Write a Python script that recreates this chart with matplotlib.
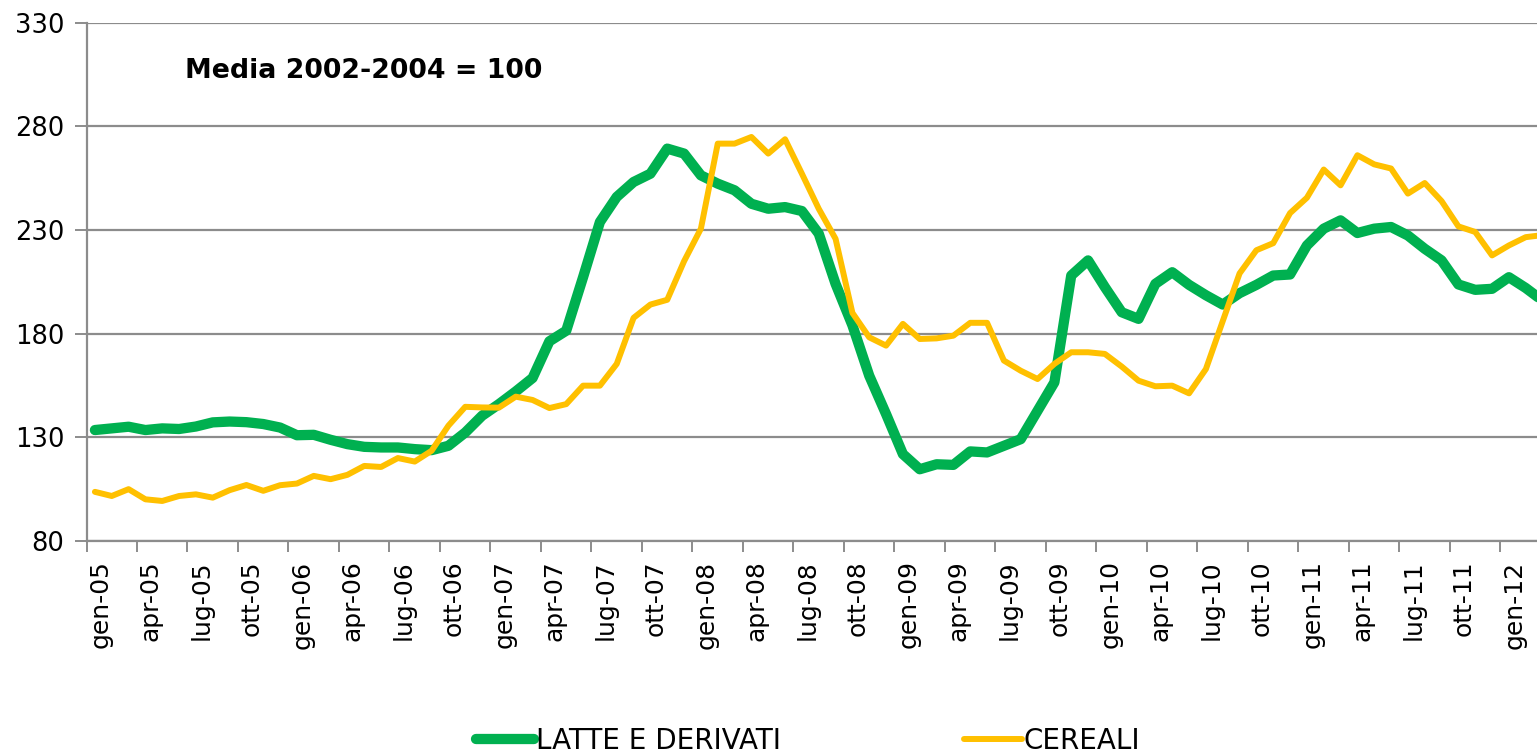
import matplotlib
matplotlib.use("Agg")
import matplotlib.pyplot as plt
from matplotlib.lines import Line2D

# ---- data (monthly, gen-05 .. mar-12) ----
latte = [133.5, 134.3, 135.1, 133.5, 134.3, 134.0, 135.2, 137.2, 137.6, 137.3,
         136.4, 134.7, 131.0, 131.2, 128.8, 126.7, 125.4, 125.1, 125.1, 124.3,
         123.8, 125.9, 132.3, 140.4, 146.0, 152.1, 158.6, 176.3, 181.4, 207.2,
         233.8, 245.9, 253.1, 257.1, 269.2, 266.8, 256.3, 252.3, 249.1, 242.6,
         240.2, 241.0, 239.1, 228.2, 204.0, 184.0, 159.7, 141.2, 121.9, 114.6,
         117.0, 116.7, 123.2, 122.7, 125.9, 129.1, 142.8, 156.5, 208.0, 215.3,
         202.4, 190.3, 187.1, 204.0, 209.6, 203.5, 198.5, 194.0, 199.5, 203.5,
         208.0, 208.5, 222.5, 230.6, 234.6, 228.5, 230.6, 231.4, 227.3, 220.9,
         215.3, 203.7, 201.1, 201.6, 207.2, 202.0, 195.9]
cereali = [103.7, 101.7, 105.0, 100.1, 99.3, 101.7, 102.5, 100.9, 104.5, 107.0,
           104.2, 106.9, 107.7, 111.4, 109.8, 111.9, 116.2, 115.7, 120.0, 118.3,
           123.5, 135.6, 144.7, 144.4, 144.3, 149.6, 148.0, 144.1, 146.0, 154.9,
           154.9, 165.4, 187.6, 194.0, 196.3, 214.9, 230.6, 271.6, 271.6, 274.8,
           266.8, 273.7, 257.1, 240.2, 225.7, 190.0, 178.2, 174.2, 184.7, 177.4,
           177.7, 179.0, 185.2, 185.2, 167.0, 162.1, 158.1, 165.4, 171.0, 171.0,
           170.2, 164.1, 157.3, 154.6, 154.9, 151.2, 162.9, 186.0, 209.0, 220.2,
           223.6, 238.1, 245.5, 259.1, 251.5, 266.0, 261.6, 259.6, 247.5, 252.6,
           243.9, 231.7, 229.0, 217.7, 222.5, 226.5, 227.5]
tick_labels = ["gen-05", "apr-05", "lug-05", "ott-05", "gen-06", "apr-06", "lug-06",
               "ott-06", "gen-07", "apr-07", "lug-07", "ott-07", "gen-08", "apr-08",
               "lug-08", "ott-08", "gen-09", "apr-09", "lug-09", "ott-09", "gen-10",
               "apr-10", "lug-10", "ott-10", "gen-11", "apr-11", "lug-11", "ott-11",
               "gen-12"]
series_names = ["LATTE E DERIVATI", "CEREALI"]
y_ticks = [80, 130, 180, 230, 280, 330]

GREEN = "#00B050"
YELLOW = "#FFC000"
GRID = "#8C8C8C"

W, H = 1537, 755
plt.rcParams['font.family'] = ['DejaVu Sans']
fig = plt.figure(figsize=(W / 100, H / 100), dpi=100)

left_px, right_px, top_px, bot_px = 86.5, 1537, 22.5, 541
ax = fig.add_axes([left_px / W, 1 - bot_px / H, (right_px - left_px) / W, (bot_px - top_px) / H])

x = list(range(len(latte)))
ax.plot(x, latte, color=GREEN, lw=7.4, solid_joinstyle='round', solid_capstyle='round', zorder=3)
ax.plot(x, cereali, color=YELLOW, lw=4.3, solid_joinstyle='round', solid_capstyle='round', zorder=4)

month_px = 16.833
ax.set_xlim(-0.5, (right_px - left_px) / month_px - 0.5)
ax.set_ylim(80, 330)

# y axis
ax.set_yticks(y_ticks)
ax.set_yticklabels([str(v) for v in y_ticks], fontsize=18.5)
ax.yaxis.grid(True, color=GRID, lw=1.6)
ax.set_axisbelow(True)

# x axis: tick marks at category boundaries, labels under categories
boundaries = [3 * k - 0.5 for k in range(len(tick_labels))]
ax.set_xticks(boundaries)
ax.set_xticklabels([])
ax.set_xticks([3 * k + 0.33 for k in range(len(tick_labels))], minor=True)
ax.set_xticklabels(tick_labels, minor=True, rotation=90, fontsize=18, va='top')
ax.tick_params(axis='x', which='major', length=8, width=1.4, color=GRID)
ax.tick_params(axis='x', which='minor', length=0, pad=14)
ax.tick_params(axis='y', length=9, width=1.4, color=GRID, pad=7)

for s in ['top', 'right']:
    ax.spines[s].set_visible(False)
for s in ['left', 'bottom']:
    ax.spines[s].set_color(GRID)
    ax.spines[s].set_linewidth(1.6)

fig.text(185 / W, 1 - 71 / H, "Media 2002-2004 = 100", fontsize=19.3,
         fontweight='bold', va='center', ha='left')

handles = [Line2D([], [], color=GREEN, lw=7.4, solid_capstyle='round'),
           Line2D([], [], color=YELLOW, lw=4.3, solid_capstyle='round')]
fig.legend(handles, series_names, loc='center', bbox_to_anchor=(808 / W, 1 - 741 / H),
           ncol=2, frameon=False, fontsize=20, handlelength=2.1, handletextpad=0.05,
           columnspacing=6.6, borderpad=0, borderaxespad=0)

fig.savefig("out.png", dpi=100)
